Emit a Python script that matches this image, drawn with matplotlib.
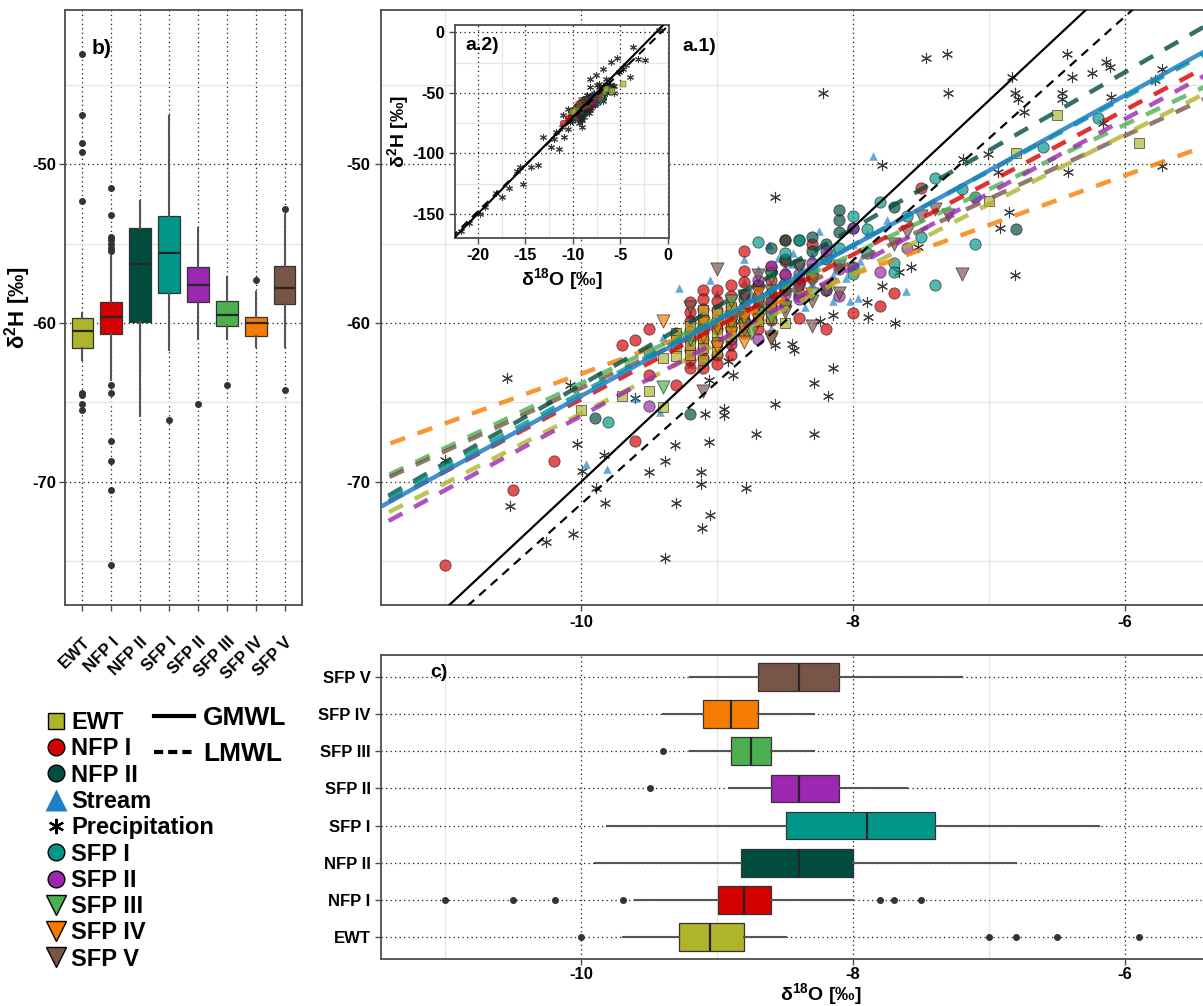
"""
Dual-isotope figure: delta18O vs delta2H scatter with regression lines (a.1),
full-range inset (a.2), delta2H boxplots per site (b) and delta18O boxplots (c).
"""
import matplotlib
matplotlib.use("Agg")
import matplotlib.pyplot as plt  # noqa: E402
from matplotlib.lines import Line2D  # noqa: E402
from matplotlib.ticker import FixedLocator, MultipleLocator  # noqa: E402

plt.rcParams["font.family"] = ["Liberation Sans", "DejaVu Sans"]
plt.rcParams["font.weight"] = "bold"
plt.rcParams["axes.unicode_minus"] = False
plt.rcParams["mathtext.fontset"] = "custom"
plt.rcParams["mathtext.rm"] = "Liberation Sans:bold"
plt.rcParams["mathtext.bf"] = "Liberation Sans:bold"
plt.rcParams["mathtext.default"] = "bf"

# --------------------------------------------------------------------------- #
# Data
# --------------------------------------------------------------------------- #

GROUPS = ["EWT", "NFP I", "NFP II", "SFP I", "SFP II", "SFP III", "SFP IV", "SFP V"]
COLORS = {
    "EWT": "#AFB42B", "NFP I": "#D50000", "NFP II": "#004D40",
    "Stream": "#1F7FC4", "Precipitation": "#262626", "SFP I": "#009688",
    "SFP II": "#9C27B0", "SFP III": "#4CAF50", "SFP IV": "#F57C00",
    "SFP V": "#795548",
}

EWT_O = [-9.3, -9.3, -9.3, -9.3, -9.2, -9.2, -9.2, -9.2, -9.1, -9.1, -9.1, -9.1,
         -9.1, -9.1, -9.0, -9.0, -9.0, -9.0, -9.0, -8.9, -8.9, -8.9, -8.9, -8.8,
         -8.8, -8.8, -8.7, -8.7, -8.6, -8.6, -8.5, -9.4, -9.5, -9.7, -9.4, -10.0,
         -7.0, -6.8, -6.5, -5.9, -4.7]
EWT_H = [-60.6, -61.1, -61.6, -62.1, -60.2, -60.8, -61.4, -62.0, -59.2, -59.8,
         -60.4, -61.0, -61.6, -62.3, -59.4, -60.0, -60.6, -61.2, -61.8, -59.0,
         -59.6, -60.2, -60.8, -59.4, -60.0, -60.5, -59.3, -59.9, -59.1, -59.7,
         -60.0, -62.2, -64.3, -64.6, -65.3, -65.5, -52.3, -49.3, -46.9, -48.7,
         -43.1]

NFP1_O = [-9.2] * 8 + [-9.1] * 9 + [-9.0] * 8 + [-8.9] * 7 + [-8.8] * 6 + \
         [-8.7] * 5 + [-8.6] * 5 + [-8.5] * 4 + [-8.4] * 3 + \
         [-8.3, -8.3, -8.5, -8.8, -8.2, -8.0, -7.8, -7.7, -7.5, -9.3, -9.5,
          -9.6, -9.7, -9.5, -9.3, -9.6, -10.2, -10.5, -11.0]
NFP1_H = [-58.7, -59.3, -59.9, -60.5, -61.1, -61.7, -62.3, -62.8,
          -57.9, -58.5, -59.1, -59.7, -60.3, -61.0, -61.6, -62.2, -62.8,
          -57.9, -58.6, -59.2, -59.8, -60.4, -61.2, -62.0, -62.6,
          -57.6, -58.3, -59.0, -59.7, -60.4, -61.3, -62.0,
          -56.7, -57.4, -58.2, -59.0, -59.8, -60.6,
          -57.6, -58.3, -59.0, -59.8, -60.4,
          -56.5, -57.3, -58.1, -59.0, -59.8,
          -56.1, -57.0, -57.9, -58.8,
          -57.4, -58.3, -59.7,
          -55.0, -56.9, -54.8, -55.5, -60.4, -59.4, -58.9, -58.1, -51.5, -60.6,
          -60.4, -61.1, -61.4, -63.3, -63.9, -67.4, -68.7, -70.5, -75.2]

NFP2_O = [-8.8, -8.8, -8.7, -8.7, -8.6, -8.6, -8.5, -8.5, -8.5, -8.4, -8.4, -8.4,
          -8.3, -8.3, -8.3, -8.2, -8.1, -8.1, -8.1, -8.0, -7.7, -6.8, -9.2, -9.9,
          -8.9, -8.2, -8.0, -8.6]
NFP2_H = [-59.9, -58.5, -59.2, -57.6, -58.8, -56.8, -57.9, -56.0, -54.8, -56.3,
          -57.4, -54.8, -55.5, -54.6, -57.0, -56.0, -52.9, -53.5, -54.3, -54.0,
          -52.7, -54.1, -65.7, -66.0, -60.0, -55.0, -56.5, -55.3]

SFP1_O = [-8.5, -8.5, -8.4, -8.3, -8.2, -8.1, -8.0, -8.0, -7.9, -7.9, -7.8, -7.7,
          -7.6, -7.5, -7.4, -7.4, -7.2, -7.1, -7.1, -6.6, -6.2, -9.5, -9.8, -8.7,
          -8.4, -8.6, -7.7]
SFP1_H = [-57.5, -55.6, -58.1, -56.6, -57.9, -55.3, -56.9, -53.3, -55.6, -54.1,
          -52.4, -56.2, -53.3, -54.6, -50.9, -57.6, -51.6, -52.1, -55.0, -48.9,
          -47.1, -61.8, -66.2, -54.9, -54.8, -58.3, -56.8]

SFP2_O = [-8.9, -8.7, -8.7, -8.6, -8.6, -8.5, -8.5, -8.4, -8.4, -8.4, -8.3, -8.3,
          -8.2, -8.2, -8.1, -8.1, -8.0, -7.8, -7.6, -9.5]
SFP2_H = [-61.0, -61.0, -57.3, -58.7, -56.4, -56.9, -58.2, -57.6, -56.9, -58.5,
          -57.2, -56.2, -57.9, -55.5, -56.6, -58.3, -54.0, -56.8, -55.3, -65.2]

SFP3_O = [-9.4, -9.2, -9.0, -8.9, -8.9, -8.8, -8.8, -8.75, -8.7, -8.7, -8.6, -8.6,
          -8.5, -8.3]
SFP3_H = [-64.0, -61.0, -60.2, -59.9, -58.6, -59.5, -60.2, -60.6, -59.4, -58.8,
          -59.7, -57.1, -59.0, -58.2]

SFP4_O = [-9.4, -9.1, -9.1, -9.0, -9.0, -8.9, -8.9, -8.9, -8.8, -8.8, -8.7, -8.7,
          -8.6, -8.3, -8.8]
SFP4_H = [-59.9, -60.8, -60.0, -61.5, -60.3, -59.6, -60.0, -60.6, -59.7, -60.4,
          -58.1, -59.8, -60.9, -57.3, -61.2]

SFP5_O = [-9.2, -9.1, -9.0, -8.8, -8.7, -8.7, -8.6, -8.6, -8.5, -8.5, -8.4, -8.4,
          -8.3, -8.3, -8.2, -8.1, -8.1, -7.7, -7.6, -7.5, -7.4, -7.3, -7.2]
SFP5_H = [-59.0, -64.3, -56.6, -58.3, -57.0, -58.8, -58.0, -61.0, -57.8, -59.3,
          -57.8, -56.4, -58.6, -60.2, -57.9, -58.1, -56.4, -55.0, -54.3, -53.3,
          -52.8, -53.2, -56.9]

STREAM_O = [-9.96, -9.81, -9.40, -9.42, -9.60, -9.28, -7.85, -7.61, -7.96, -8.02,
            -8.15, -8.62, -8.44, -8.15, -9.20, -9.10, -9.00, -8.90, -8.80, -8.70,
            -8.60, -8.50, -8.40, -8.30, -8.20, -8.10, -8.00, -7.90, -8.30, -8.50,
            -8.70, -9.00, -9.30, -9.20, -8.90, -8.60, -8.80, -8.25, -9.05, -8.35,
            -8.05, -7.75, -8.55, -8.75, -8.45, -8.15, -7.95, -9.15]
STREAM_H = [-68.9, -69.2, -60.9, -65.6, -64.7, -57.8, -49.5, -58.0, -58.4, -58.6,
            -58.6, -55.1, -55.6, -55.5, -59.5, -62.0, -60.8, -58.7, -57.4, -56.6,
            -57.9, -56.5, -57.0, -55.8, -55.3, -56.2, -55.0, -54.4, -57.5, -58.4,
            -59.2, -58.2, -61.5, -62.6, -61.5, -60.3, -56.0, -54.2, -57.3, -59.0,
            -57.2, -53.5, -55.9, -58.1, -56.3, -57.0, -56.1, -60.4]

# precipitation; the far-off events only show up in the a.2 inset
PRECIP_O = [-10.54, -10.08, -10.03, -9.99, -11.0, -10.52, -9.89, -9.83, -9.82,
            -10.06, -10.26, -9.50, -9.38, -9.31, -9.30, -9.38, -9.12, -9.12,
            -9.11, -9.05, -9.06, -9.06, -9.09, -8.95, -8.95, -8.79, -8.71, -8.57,
            -8.29, -8.29, -8.18, -8.88, -8.92, -8.45, -8.43, -9.60, -8.57, -8.15,
            -8.22, -8.57, -7.79, -7.46, -7.31, -7.30, -6.83, -6.81, -6.79, -6.43,
            -6.39, -6.24, -6.14, -6.11, -6.46, -6.46, -6.10, -5.73, -5.78, -6.74,
            -6.16, -5.73, -6.42, -7.01, -7.19, -6.85, -6.92, -6.81, -7.57, -7.66,
            -7.79, -7.90, -7.89, -7.69, -8.15, -6.93, -8.24, -7.52,
            -3.67, -2.43, -3.14, -5.36, -5.96, -4.02, -6.50, -13.2, -12.3, -11.5,
            -11.1, -10.9, -13.7, -14.4, -15.6, -15.9, -15.2, -16.7, -17.5, -18.1,
            -19.2, -19.8, -21.8, -20.9, -1.0, -8.25, -6.84, -4.73, -5.2, -4.4,
            -7.6, -12.0, -10.5, -11.8, -9.0]
PRECIP_H = [-63.46, -63.9, -67.6, -69.3, -68.6, -71.5, -70.4, -68.3, -71.3,
            -73.3, -73.8, -69.4, -68.7, -67.7, -71.3, -74.8, -69.4, -70.1,
            -72.9, -72.1, -67.5, -63.6, -65.7, -65.4, -65.8, -70.4, -67.0, -65.1,
            -63.8, -67.0, -64.6, -63.3, -62.4, -61.3, -61.7, -64.7, -61.4, -62.8,
            -45.5, -52.1, -50.06, -43.3, -43.1, -45.5, -44.5, -45.5, -45.9, -43.1,
            -44.5, -44.3, -43.6, -43.9, -45.5, -45.9, -45.8, -44.0, -44.7, -46.7,
            -47.4, -50.1, -50.5, -49.4, -49.7, -53.0, -54.0, -57.0, -56.5, -56.8,
            -57.7, -58.7, -59.6, -60.0, -59.5, -50.5, -59.9, -55.2,
            -12.1, -23.1, -21.8, -20.9, -24.5, -36.9, -38.5, -86.5, -94.8, -96.1,
            -78.2, -86.5, -110.0, -111.0, -111.0, -115.0, -125.0, -129.0, -136.0,
            -133.0, -144.0, -150.0, -164.0, -158.0, 2.0, -39.0, -30.0, -30.0,
            -33.0, -27.0, -35.0, -88.0, -80.0, -82.0, -78.5]

# per-group regression lines drawn in a.1 (slope, intercept)
REG_GROUPS = ["SFP IV", "SFP III", "SFP V", "NFP II", "EWT", "SFP II", "NFP I",
              "SFP I", "Stream"]
REG_SLOPE = [3.12, 4.07, 3.97, 4.92, 4.39, 4.67, 4.55, 4.65, 4.73]
REG_INTERCEPT = [-32.0, -23.1, -24.4, -14.7, -21.8, -19.15, -19.3, -17.9, -17.3]
GMWL = (8.0, 10.0)
LMWL = (7.67, 5.3)

# boxplot summaries in GROUPS order: (b) delta2H, (c) delta18O
H_Q1 = [-61.6, -60.7, -59.95, -58.1, -58.7, -60.2, -60.8, -58.8]
H_MED = [-60.5, -59.6, -56.3, -55.6, -57.6, -59.5, -60.0, -57.8]
H_Q3 = [-59.7, -58.66, -54.0, -53.3, -56.5, -58.6, -59.6, -56.4]
H_WLO = [-62.3, -63.6, -65.85, -61.7, -61.0, -61.0, -61.5, -61.5]
H_WHI = [-59.4, -55.8, -52.3, -47.0, -54.0, -57.1, -58.05, -53.2]
H_OUT = [[-43.1, -46.9, -48.7, -49.25, -52.3, -64.4, -64.55, -65.1, -65.5],
         [-51.5, -53.2, -54.6, -54.8, -55.0, -55.3, -55.5, -63.9, -64.4, -67.4,
          -68.7, -70.5, -75.2],
         [], [-66.1], [-65.1], [-63.9], [-57.3], [-52.8, -64.2]]

O_Q1 = [-9.28, -8.99, -8.82, -8.49, -8.60, -8.90, -9.10, -8.70]
O_MED = [-9.05, -8.80, -8.40, -7.90, -8.40, -8.75, -8.90, -8.40]
O_Q3 = [-8.80, -8.60, -8.00, -7.40, -8.10, -8.60, -8.70, -8.10]
O_WLO = [-9.69, -9.60, -9.90, -9.81, -8.91, -9.20, -9.40, -9.20]
O_WHI = [-8.49, -8.00, -6.80, -6.19, -7.60, -8.29, -8.29, -7.20]
O_OUT = [[-10.0, -7.0, -6.8, -6.5, -5.9, -4.7],
         [-11.0, -10.5, -10.19, -9.69, -7.8, -7.7, -7.5],
         [], [], [-9.49], [-9.40], [], []]

# drawing order for the scatter layers: (name, x, y, marker, size, edge)
SCATTER = [
    ("Precipitation", PRECIP_O, PRECIP_H, (6, 2, 0), 55, None),
    ("Stream", STREAM_O, STREAM_H, "^", 38, None),
    ("NFP I", NFP1_O, NFP1_H, "o", 66, "k"),
    ("NFP II", NFP2_O, NFP2_H, "o", 66, "k"),
    ("SFP I", SFP1_O, SFP1_H, "o", 66, "k"),
    ("SFP II", SFP2_O, SFP2_H, "o", 66, "k"),
    ("EWT", EWT_O, EWT_H, "s", 58, "k"),
    ("SFP III", SFP3_O, SFP3_H, "v", 90, "k"),
    ("SFP IV", SFP4_O, SFP4_H, "v", 90, "k"),
    ("SFP V", SFP5_O, SFP5_H, "v", 90, "k"),
]
LEGEND_ORDER = ["EWT", "NFP I", "NFP II", "Stream", "Precipitation", "SFP I",
                "SFP II", "SFP III", "SFP IV", "SFP V"]

# --------------------------------------------------------------------------- #
# Helpers
# --------------------------------------------------------------------------- #

W, H = 1203, 1006
DOTTED = (0, (1, 2.6))


def px_axes(left, top, right, bottom):
    """Figure-fraction rect from pixel edges."""
    return [left / W, 1 - bottom / H, (right - left) / W, (bottom - top) / H]


def frame(ax, size=12):
    for sp in ax.spines.values():
        sp.set_color("#4d4d4d")
        sp.set_linewidth(1.3)
    ax.tick_params(which="major", direction="out", length=4, width=1,
                   color="#4d4d4d", labelsize=size)
    ax.tick_params(which="minor", length=0)
    for lab in ax.get_xticklabels() + ax.get_yticklabels():
        lab.set_fontweight("bold")
    ax.set_axisbelow(True)


def grids(ax, axis="both", minor=True):
    ax.grid(True, which="major", axis=axis, color="#1a1a1a", lw=0.9, ls=DOTTED)
    if minor:
        ax.grid(True, which="minor", axis=axis, color="#e6e6e6", lw=0.9, ls="-")


def box_stats(q1, med, q3, wlo, whi, out):
    return [dict(q1=a, med=b, q3=c, whislo=d, whishi=e, fliers=f)
            for a, b, c, d, e, f in zip(q1, med, q3, wlo, whi, out)]


def draw_boxes(ax, stats, orientation):
    bp = ax.bxp(stats, positions=range(1, len(stats) + 1), widths=0.75,
                orientation=orientation, patch_artist=True, showcaps=False,
                boxprops=dict(edgecolor="#333333", linewidth=0.9),
                medianprops=dict(color="#262626", linewidth=1.6),
                whiskerprops=dict(color="#555555", linewidth=1.5),
                flierprops=dict(marker="o", markerfacecolor="#333333",
                                markeredgecolor="#333333", markersize=4))
    for patch, name in zip(bp["boxes"], GROUPS):
        patch.set_facecolor(COLORS[name])


def draw_points(ax, scale, alpha):
    for name, xs, ys, marker, size, edge in SCATTER:
        if name == "Precipitation":
            ax.scatter(xs, ys, marker=marker, s=size * scale, c=COLORS[name],
                       linewidths=0.8, alpha=0.9, zorder=2)
        elif edge is None:
            ax.scatter(xs, ys, marker=marker, s=size * scale, c=COLORS[name],
                       linewidths=0, alpha=alpha, zorder=2)
        else:
            ax.scatter(xs, ys, marker=marker, s=size * scale, c=COLORS[name],
                       edgecolors="#1a1a1a", linewidths=0.6 * scale ** 0.5,
                       alpha=alpha, zorder=2)


def water_lines(ax, x0, x1, lw):
    xs = [x0, x1]
    ax.plot(xs, [GMWL[0] * x + GMWL[1] for x in xs], color="k", lw=lw, zorder=5)
    ax.plot(xs, [LMWL[0] * x + LMWL[1] for x in xs], color="k", lw=lw,
            ls=(0, (4, 3)), zorder=5)


def legend_handle(name):
    color = COLORS[name]
    if name == "EWT":
        return Line2D([], [], ls="none", marker="s", ms=11, mfc=color,
                      mec="k", mew=1.0)
    if name == "Stream":
        return Line2D([], [], ls="none", marker="^", ms=16, mfc=color,
                      mec="none")
    if name == "Precipitation":
        return Line2D([], [], ls="none", marker=(6, 2, 0), ms=11, color="k",
                      mew=1.6)
    if name in ("NFP I", "NFP II", "SFP I", "SFP II"):
        return Line2D([], [], ls="none", marker="o", ms=12, mfc=color,
                      mec="k", mew=1.0)
    return Line2D([], [], ls="none", marker="v", ms=15, mfc=color,
                  mec="k", mew=1.0)


# --------------------------------------------------------------------------- #
# Figure
# --------------------------------------------------------------------------- #

fig = plt.figure(figsize=(W / 100, H / 100), dpi=100)
fig.patch.set_facecolor("white")

# --- a.1 main scatter (right edge of the panel runs past the figure) ---------
ax = fig.add_axes(px_axes(381, 10, 1261, 605))
ax.set_xlim(-11.47, -5.0)
ax.set_ylim(-77.74, -40.31)
ax.xaxis.set_major_locator(FixedLocator([-10, -8, -6]))
ax.xaxis.set_minor_locator(FixedLocator([-11, -9, -7, -5]))
ax.yaxis.set_major_locator(FixedLocator([-70, -60, -50]))
ax.yaxis.set_minor_locator(FixedLocator([-75, -65, -55, -45]))
frame(ax, 12)
grids(ax)
draw_points(ax, 1.0, 0.68)
for name, slope, icpt in zip(REG_GROUPS, REG_SLOPE, REG_INTERCEPT):
    xs = [-11.6, -4.9]
    ys = [slope * x + icpt for x in xs]
    if name == "Stream":
        ax.plot(xs, ys, color=COLORS[name], lw=3.2, alpha=0.85, zorder=4)
    else:
        ax.plot(xs, ys, color=COLORS[name], lw=3.2, alpha=0.8,
                ls=(0, (3.5, 3.0)), zorder=4)
water_lines(ax, -11.6, -4.9, 1.6)
ax.text(0.343, 0.938, "a.1)", transform=ax.transAxes, fontsize=14,
        fontweight="bold", va="center", ha="left")

# --- a.2 inset --------------------------------------------------------------
axi = fig.add_axes(px_axes(455, 25, 669, 238))
axi.set_facecolor("white")
axi.set_xlim(-22.4, 0.1)
axi.set_ylim(-170, 6)
axi.xaxis.set_major_locator(MultipleLocator(5))
axi.xaxis.set_minor_locator(FixedLocator([-17.5, -12.5, -7.5, -2.5]))
axi.yaxis.set_major_locator(MultipleLocator(50))
axi.yaxis.set_minor_locator(FixedLocator([-125, -75, -25]))
frame(axi, 11.5)
grids(axi)
axi.set_zorder(6)
draw_points(axi, 0.35, 0.75)
water_lines(axi, -25, 2, 1.5)
axi.set_xlabel("δ$^{18}$O [‰]", fontsize=14, fontweight="bold", labelpad=2)
axi.set_ylabel("δ$^{2}$H [‰]", fontsize=14, fontweight="bold", labelpad=1)
axi.text(0.047, 0.906, "a.2)", transform=axi.transAxes, fontsize=14,
         fontweight="bold", va="center", ha="left")

# --- b: delta2H boxplots ------------------------------------------------------
axb = fig.add_axes(px_axes(65, 10, 302, 605))
draw_boxes(axb, box_stats(H_Q1, H_MED, H_Q3, H_WLO, H_WHI, H_OUT), "vertical")
axb.set_xlim(0.4, 8.6)
axb.set_ylim(-77.74, -40.31)
axb.set_xticks(range(1, 9))
axb.set_xticklabels(GROUPS, rotation=45, ha="right", rotation_mode="anchor")
axb.yaxis.set_major_locator(FixedLocator([-70, -60, -50]))
axb.yaxis.set_minor_locator(FixedLocator([-75, -65, -55, -45]))
frame(axb, 12)
axb.tick_params(axis="x", pad=17)
axb.tick_params(axis="y", pad=2)
grids(axb, "y")
axb.grid(True, which="major", axis="x", color="#1a1a1a", lw=0.9, ls=DOTTED)
axb.set_ylabel("δ$^{2}$H [‰]", fontsize=16, fontweight="bold", labelpad=0)
axb.text(0.114, 0.936, "b)", transform=axb.transAxes, fontsize=15,
         fontweight="bold", va="center", ha="left")

# --- c: delta18O boxplots -----------------------------------------------------
axc = fig.add_axes(px_axes(381, 655, 1261, 959))
draw_boxes(axc, box_stats(O_Q1, O_MED, O_Q3, O_WLO, O_WHI, O_OUT), "horizontal")
axc.set_ylim(0.4, 8.6)
axc.set_xlim(-11.47, -5.0)
axc.set_yticks(range(1, 9))
axc.set_yticklabels(GROUPS)
axc.xaxis.set_major_locator(FixedLocator([-10, -8, -6]))
axc.xaxis.set_minor_locator(FixedLocator([-11, -9, -7, -5]))
frame(axc, 12)
axc.tick_params(axis="x", pad=2)
grids(axc, "x")
axc.grid(True, which="major", axis="y", color="#1a1a1a", lw=0.9, ls=DOTTED)
axc.set_xlabel("δ$^{18}$O [‰]", fontsize=14, fontweight="bold", labelpad=-1)
axc.text(0.056, 0.941, "c)", transform=axc.transAxes, fontsize=14,
         fontweight="bold", va="center", ha="left")

# --- legends ------------------------------------------------------------------
fig.legend([legend_handle(n) for n in LEGEND_ORDER], LEGEND_ORDER,
           loc="upper left", bbox_to_anchor=(44 / W, 1 - 711 / H),
           frameon=False, borderpad=0, borderaxespad=0,
           handlelength=1.0, handletextpad=0.15, labelspacing=0.14,
           prop=dict(size=17, weight="bold"))

line_handles = [Line2D([], [], color="k", lw=3),
                Line2D([], [], color="k", lw=3, ls=(0, (2.2, 1.2)))]
fig.legend(line_handles, ["GMWL", "LMWL"], loc="upper left",
           bbox_to_anchor=(154 / W, 1 - 706 / H), frameon=False, borderpad=0,
           borderaxespad=0, handlelength=1.5, handletextpad=0.35,
           labelspacing=0.45, prop=dict(size=19, weight="bold"))

fig.savefig("out.png", dpi=100)
